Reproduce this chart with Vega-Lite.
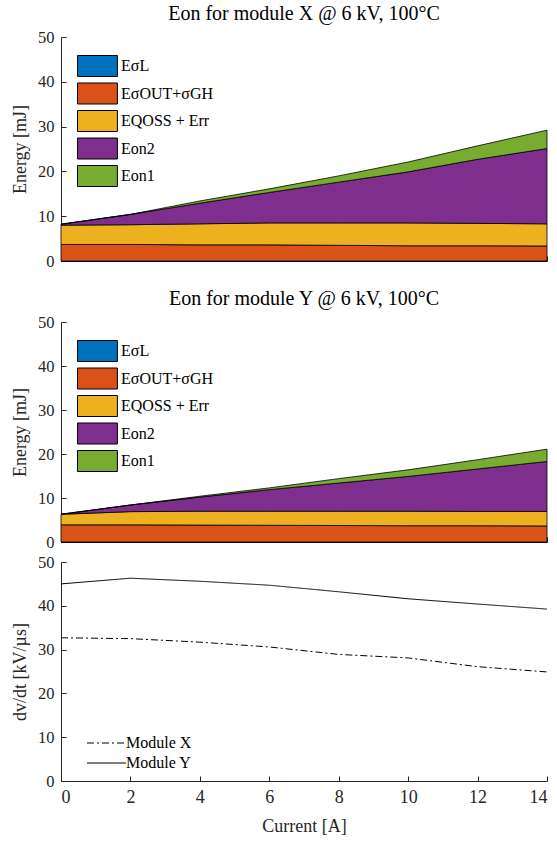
{
  "$schema": "https://vega.github.io/schema/vega-lite/v6.json",
  "padding": {"left": 11, "right": 4, "top": 4, "bottom": 0},
  "background": "white",
  "config": {
    "font": "Liberation Serif",
    "view": {"stroke": null},
    "axis": {
      "labelFont": "Liberation Serif", "titleFont": "Liberation Serif",
      "labelFontSize": 18, "titleFontSize": 18, "titleFontWeight": "normal",
      "labelColor": "#262626", "titleColor": "#262626",
      "domainColor": "#262626", "tickColor": "#262626",
      "tickSize": -5, "grid": false, "labelPadding": 12, "titlePadding": 8
    },
    "axisY": {"labelFontSize": 16.5},
    "title": {"font": "Liberation Serif", "fontSize": 20, "fontWeight": "normal", "color": "#000000"},
    "legend": {"labelFont": "Liberation Serif", "labelFontSize": 16, "labelColor": "#000000"}
  },
  "datasets": {
    "energy": [
      {"module": "X", "I": 0, "comp": "EσL", "E": 0},
      {"module": "X", "I": 2, "comp": "EσL", "E": 0},
      {"module": "X", "I": 4, "comp": "EσL", "E": 0},
      {"module": "X", "I": 6, "comp": "EσL", "E": 0},
      {"module": "X", "I": 8, "comp": "EσL", "E": 0},
      {"module": "X", "I": 10, "comp": "EσL", "E": 0},
      {"module": "X", "I": 12, "comp": "EσL", "E": 0},
      {"module": "X", "I": 14, "comp": "EσL", "E": 0},
      {"module": "X", "I": 0, "comp": "EσOUT+σGH", "E": 3.7},
      {"module": "X", "I": 2, "comp": "EσOUT+σGH", "E": 3.7},
      {"module": "X", "I": 4, "comp": "EσOUT+σGH", "E": 3.6},
      {"module": "X", "I": 6, "comp": "EσOUT+σGH", "E": 3.6},
      {"module": "X", "I": 8, "comp": "EσOUT+σGH", "E": 3.5},
      {"module": "X", "I": 10, "comp": "EσOUT+σGH", "E": 3.4},
      {"module": "X", "I": 12, "comp": "EσOUT+σGH", "E": 3.4},
      {"module": "X", "I": 14, "comp": "EσOUT+σGH", "E": 3.35},
      {"module": "X", "I": 0, "comp": "EQOSS + Err", "E": 4.3},
      {"module": "X", "I": 2, "comp": "EQOSS + Err", "E": 4.4},
      {"module": "X", "I": 4, "comp": "EQOSS + Err", "E": 4.7},
      {"module": "X", "I": 6, "comp": "EQOSS + Err", "E": 4.9},
      {"module": "X", "I": 8, "comp": "EQOSS + Err", "E": 5.0},
      {"module": "X", "I": 10, "comp": "EQOSS + Err", "E": 5.1},
      {"module": "X", "I": 12, "comp": "EQOSS + Err", "E": 5.0},
      {"module": "X", "I": 14, "comp": "EQOSS + Err", "E": 4.95},
      {"module": "X", "I": 0, "comp": "Eon2", "E": 0.2},
      {"module": "X", "I": 2, "comp": "Eon2", "E": 2.3},
      {"module": "X", "I": 4, "comp": "Eon2", "E": 4.6},
      {"module": "X", "I": 6, "comp": "Eon2", "E": 6.8},
      {"module": "X", "I": 8, "comp": "Eon2", "E": 9.1},
      {"module": "X", "I": 10, "comp": "Eon2", "E": 11.4},
      {"module": "X", "I": 12, "comp": "Eon2", "E": 14.3},
      {"module": "X", "I": 14, "comp": "Eon2", "E": 16.8},
      {"module": "X", "I": 0, "comp": "Eon1", "E": 0},
      {"module": "X", "I": 2, "comp": "Eon1", "E": 0},
      {"module": "X", "I": 4, "comp": "Eon1", "E": 0.5},
      {"module": "X", "I": 6, "comp": "Eon1", "E": 0.8},
      {"module": "X", "I": 8, "comp": "Eon1", "E": 1.4},
      {"module": "X", "I": 10, "comp": "Eon1", "E": 2.2},
      {"module": "X", "I": 12, "comp": "Eon1", "E": 3.0},
      {"module": "X", "I": 14, "comp": "Eon1", "E": 4.1},
      {"module": "Y", "I": 0, "comp": "EσL", "E": 0},
      {"module": "Y", "I": 2, "comp": "EσL", "E": 0},
      {"module": "Y", "I": 4, "comp": "EσL", "E": 0},
      {"module": "Y", "I": 6, "comp": "EσL", "E": 0},
      {"module": "Y", "I": 8, "comp": "EσL", "E": 0},
      {"module": "Y", "I": 10, "comp": "EσL", "E": 0},
      {"module": "Y", "I": 12, "comp": "EσL", "E": 0},
      {"module": "Y", "I": 14, "comp": "EσL", "E": 0},
      {"module": "Y", "I": 0, "comp": "EσOUT+σGH", "E": 3.9},
      {"module": "Y", "I": 2, "comp": "EσOUT+σGH", "E": 3.9},
      {"module": "Y", "I": 4, "comp": "EσOUT+σGH", "E": 3.85},
      {"module": "Y", "I": 6, "comp": "EσOUT+σGH", "E": 3.8},
      {"module": "Y", "I": 8, "comp": "EσOUT+σGH", "E": 3.75},
      {"module": "Y", "I": 10, "comp": "EσOUT+σGH", "E": 3.7},
      {"module": "Y", "I": 12, "comp": "EσOUT+σGH", "E": 3.7},
      {"module": "Y", "I": 14, "comp": "EσOUT+σGH", "E": 3.65},
      {"module": "Y", "I": 0, "comp": "EQOSS + Err", "E": 2.4},
      {"module": "Y", "I": 2, "comp": "EQOSS + Err", "E": 3.0},
      {"module": "Y", "I": 4, "comp": "EQOSS + Err", "E": 3.15},
      {"module": "Y", "I": 6, "comp": "EQOSS + Err", "E": 3.2},
      {"module": "Y", "I": 8, "comp": "EQOSS + Err", "E": 3.25},
      {"module": "Y", "I": 10, "comp": "EQOSS + Err", "E": 3.3},
      {"module": "Y", "I": 12, "comp": "EQOSS + Err", "E": 3.25},
      {"module": "Y", "I": 14, "comp": "EQOSS + Err", "E": 3.3},
      {"module": "Y", "I": 0, "comp": "Eon2", "E": 0},
      {"module": "Y", "I": 2, "comp": "Eon2", "E": 1.5},
      {"module": "Y", "I": 4, "comp": "Eon2", "E": 3.2},
      {"module": "Y", "I": 6, "comp": "Eon2", "E": 4.9},
      {"module": "Y", "I": 8, "comp": "Eon2", "E": 6.4},
      {"module": "Y", "I": 10, "comp": "Eon2", "E": 7.9},
      {"module": "Y", "I": 12, "comp": "Eon2", "E": 9.65},
      {"module": "Y", "I": 14, "comp": "Eon2", "E": 11.35},
      {"module": "Y", "I": 0, "comp": "Eon1", "E": 0},
      {"module": "Y", "I": 2, "comp": "Eon1", "E": 0},
      {"module": "Y", "I": 4, "comp": "Eon1", "E": 0.2},
      {"module": "Y", "I": 6, "comp": "Eon1", "E": 0.4},
      {"module": "Y", "I": 8, "comp": "Eon1", "E": 1.0},
      {"module": "Y", "I": 10, "comp": "Eon1", "E": 1.5},
      {"module": "Y", "I": 12, "comp": "Eon1", "E": 2.1},
      {"module": "Y", "I": 14, "comp": "Eon1", "E": 2.8}
    ],
    "dvdt": [
      {"module": "Module X", "I": 0, "v": 32.7},
      {"module": "Module X", "I": 2, "v": 32.5},
      {"module": "Module X", "I": 4, "v": 31.7},
      {"module": "Module X", "I": 6, "v": 30.6},
      {"module": "Module X", "I": 8, "v": 28.9},
      {"module": "Module X", "I": 10, "v": 28.1},
      {"module": "Module X", "I": 12, "v": 26.1},
      {"module": "Module X", "I": 14, "v": 24.9},
      {"module": "Module Y", "I": 0, "v": 45.0},
      {"module": "Module Y", "I": 2, "v": 46.3},
      {"module": "Module Y", "I": 4, "v": 45.6},
      {"module": "Module Y", "I": 6, "v": 44.7},
      {"module": "Module Y", "I": 8, "v": 43.2},
      {"module": "Module Y", "I": 10, "v": 41.6},
      {"module": "Module Y", "I": 12, "v": 40.4},
      {"module": "Module Y", "I": 14, "v": 39.25}
    ]
  },
  "spacing": 19,
  "resolve": {"legend": {"color": "independent", "strokeDash": "independent"}},
  "vconcat": [
    {
      "width": 486, "height": 224,
      "title": {"text": "Eon for module X @ 6 kV, 100°C", "offset": 5},
      "data": {"name": "energy"},
      "transform": [
        {"filter": "datum.module == 'X'"},
        {"calculate": "indexof(['EσL', 'EσOUT+σGH', 'EQOSS + Err', 'Eon2', 'Eon1'], datum.comp)", "as": "k"}
      ],
      "mark": {"type": "area", "stroke": "black", "strokeWidth": 0.8, "opacity": 1},
      "encoding": {
        "x": {"field": "I", "type": "quantitative", "scale": {"domain": [0, 14]},
              "axis": {"values": [0, 2, 4, 6, 8, 10, 12, 14], "labels": false, "title": null}},
        "y": {"field": "E", "type": "quantitative", "stack": "zero", "scale": {"domain": [0, 50]},
              "axis": {"values": [0, 10, 20, 30, 40, 50], "title": "Energy [mJ]"}},
        "order": {"field": "k", "type": "quantitative"},
        "color": {"field": "comp", "type": "nominal",
                  "sort": ["EσL", "EσOUT+σGH", "EQOSS + Err", "Eon2", "Eon1"],
                  "scale": {"domain": ["EσL", "EσOUT+σGH", "EQOSS + Err", "Eon2", "Eon1"],
                            "range": ["#0072BD", "#D95319", "#EDB120", "#7E2F8E", "#77AC30"]},
                  "legend": {"title": null, "orient": "none", "legendX": 16, "legendY": 18,
                             "symbolType": "M-1,-1H2.8V1H-1Z", "symbolSize": 441,
                             "symbolStrokeColor": "black", "symbolStrokeWidth": 1, "symbolOpacity": 1,
                             "rowPadding": 1.5, "labelOffset": 22}}
      }
    },
    {
      "spacing": 3,
      "resolve": {"legend": {"color": "independent", "strokeDash": "independent"}},
      "vconcat": [
        {
          "width": 486, "height": 220,
          "title": {"text": "Eon for module Y @ 6 kV, 100°C", "offset": 5},
          "data": {"name": "energy"},
          "transform": [
            {"filter": "datum.module == 'Y'"},
            {"calculate": "indexof(['EσL', 'EσOUT+σGH', 'EQOSS + Err', 'Eon2', 'Eon1'], datum.comp)", "as": "k"}
          ],
          "mark": {"type": "area", "stroke": "black", "strokeWidth": 0.8, "opacity": 1},
          "encoding": {
            "x": {"field": "I", "type": "quantitative", "scale": {"domain": [0, 14]},
                  "axis": {"values": [0, 2, 4, 6, 8, 10, 12, 14], "labels": false, "title": null}},
            "y": {"field": "E", "type": "quantitative", "stack": "zero", "scale": {"domain": [0, 50]},
                  "axis": {"values": [0, 10, 20, 30, 40, 50], "title": "Energy [mJ]"}},
            "order": {"field": "k", "type": "quantitative"},
            "color": {"field": "comp", "type": "nominal",
                      "sort": ["EσL", "EσOUT+σGH", "EQOSS + Err", "Eon2", "Eon1"],
                      "scale": {"domain": ["EσL", "EσOUT+σGH", "EQOSS + Err", "Eon2", "Eon1"],
                                "range": ["#0072BD", "#D95319", "#EDB120", "#7E2F8E", "#77AC30"]},
                      "legend": {"title": null, "orient": "none", "legendX": 16, "legendY": 18,
                                 "symbolType": "M-1,-1H2.8V1H-1Z", "symbolSize": 441,
                                 "symbolStrokeColor": "black", "symbolStrokeWidth": 1, "symbolOpacity": 1,
                                 "rowPadding": 1.5, "labelOffset": 22}}
          }
        },
        {
          "width": 486, "height": 219,
          "data": {"name": "dvdt"},
          "mark": {"type": "line", "color": "black", "strokeWidth": 1},
          "encoding": {
            "x": {"field": "I", "type": "quantitative", "scale": {"domain": [0, 14]},
                  "axis": {"values": [0, 2, 4, 6, 8, 10, 12, 14], "title": "Current [A]", "titlePadding": 11}},
            "y": {"field": "v", "type": "quantitative", "scale": {"domain": [0, 50]},
                  "axis": {"values": [0, 10, 20, 30, 40, 50], "title": "dv/dt [kV/µs]"}},
            "strokeDash": {"field": "module", "type": "nominal",
                           "scale": {"domain": ["Module X", "Module Y"], "range": [[7, 3, 2, 3], [1, 0]]},
                           "legend": {"title": null, "orient": "none", "legendX": 23, "legendY": 173,
                                      "symbolType": "M-1,0H6.8", "symbolSize": 100,
                                      "symbolFillColor": "transparent",
                                      "symbolStrokeColor": "black", "symbolStrokeWidth": 1,
                                      "rowPadding": 4, "labelOffset": 26}}
          }
        }
      ]
    }
  ]
}
